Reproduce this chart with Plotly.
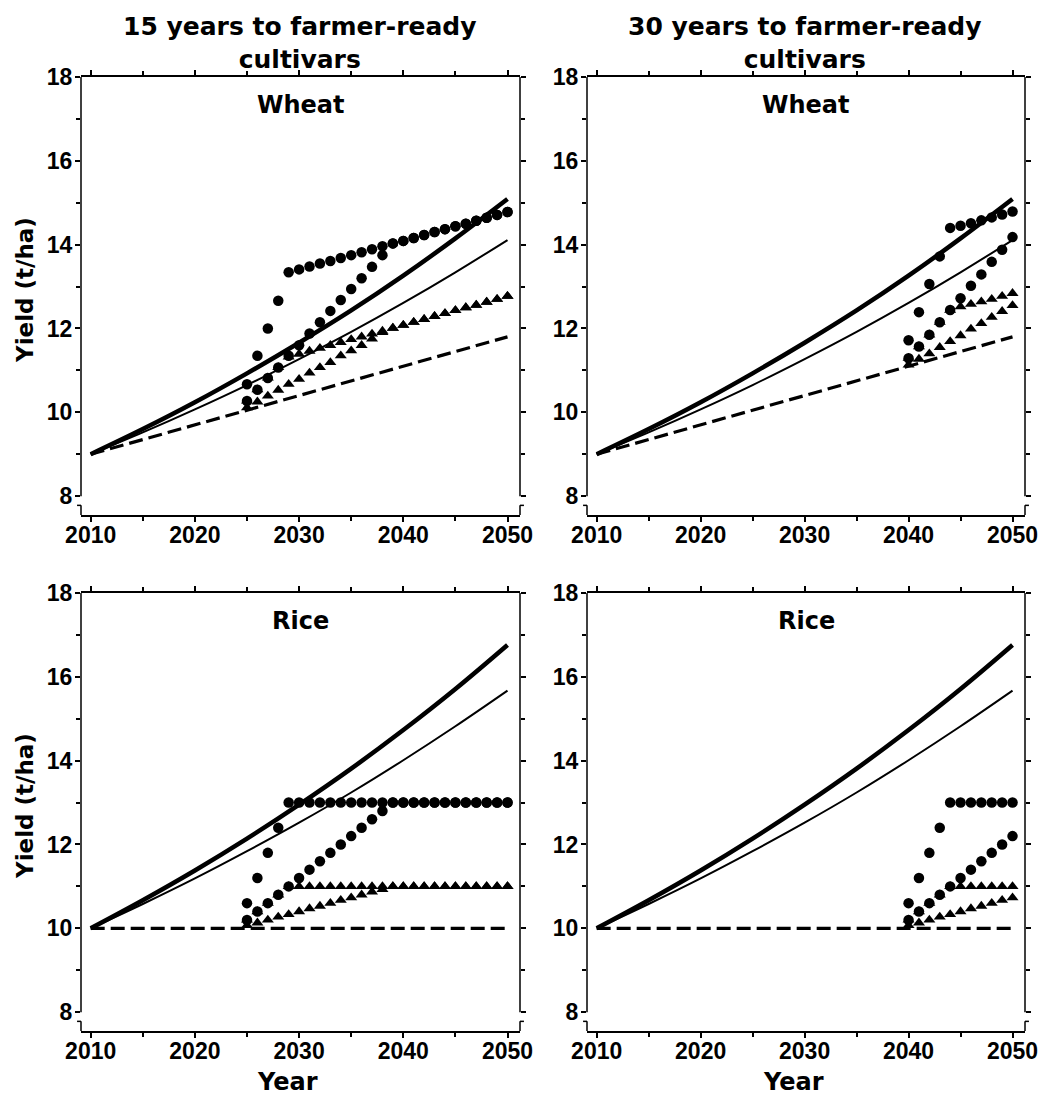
import plotly.graph_objects as go
from plotly.subplots import make_subplots

# ---------------- data ----------------
line_years = [2010, 2015, 2020, 2025, 2030, 2035, 2040, 2045, 2050]

wheat_thick = [9.00, 9.60, 10.24, 10.93, 11.66, 12.43, 13.26, 14.15, 15.09]
wheat_thin = [9.00, 9.52, 10.07, 10.65, 11.27, 11.92, 12.61, 13.34, 14.11]
wheat_dashed = [9.00, 9.35, 9.70, 10.05, 10.40, 10.75, 11.10, 11.45, 11.80]

rice_thick = [10.00, 10.67, 11.38, 12.14, 12.95, 13.81, 14.73, 15.71, 16.76]
rice_thin = [10.00, 10.58, 11.19, 11.84, 12.52, 13.24, 14.01, 14.82, 15.67]
rice_dashed = [10.00, 10.00, 10.00, 10.00, 10.00, 10.00, 10.00, 10.00, 10.00]

years_15 = list(range(2025, 2051))
years_30 = list(range(2040, 2051))

# Wheat, 15 years
w15_circ_fast = [10.67, 11.35, 12.00, 12.66, 13.34, 13.41, 13.48, 13.55, 13.61, 13.68,
                 13.75, 13.82, 13.89, 13.96, 14.03, 14.09, 14.16, 14.23, 14.30, 14.37,
                 14.44, 14.50, 14.57, 14.64, 14.71, 14.78]
w15_circ_slow = [10.27, 10.54, 10.82, 11.07, 11.35, 11.60, 11.88, 12.15, 12.42, 12.68,
                 12.94, 13.20, 13.47, 13.75, 14.03, 14.09, 14.16, 14.23, 14.30, 14.37,
                 14.44, 14.50, 14.57, 14.64, 14.71, 14.78]
w15_tri_fast = [10.27, 10.54, 10.82, 11.07, 11.32, 11.39, 11.46, 11.53, 11.60, 11.67,
                11.74, 11.80, 11.87, 11.94, 12.01, 12.08, 12.15, 12.22, 12.29, 12.36,
                12.43, 12.50, 12.56, 12.63, 12.70, 12.77]
w15_tri_slow = [10.11, 10.25, 10.39, 10.53, 10.67, 10.79, 10.94, 11.07, 11.19, 11.35,
                11.47, 11.60, 11.75, 11.91, 12.01, 12.08, 12.15, 12.22, 12.29, 12.36,
                12.43, 12.50, 12.56, 12.63, 12.70, 12.77]

# Wheat, 30 years
w30_circ_fast = [11.72, 12.39, 13.06, 13.72, 14.40, 14.45, 14.51, 14.58, 14.65, 14.72, 14.79]
w30_circ_slow = [11.29, 11.57, 11.85, 12.15, 12.44, 12.72, 13.02, 13.29, 13.59, 13.88, 14.18]
w30_tri_fast = [11.29, 11.57, 11.85, 12.15, 12.44, 12.52, 12.58, 12.64, 12.70, 12.77, 12.84]
w30_tri_slow = [11.13, 11.27, 11.40, 11.55, 11.69, 11.83, 11.99, 12.12, 12.27, 12.41, 12.55]

# Rice, 15 years
r15_circ_fast = [10.6, 11.2, 11.8, 12.4, 13.0, 13.0, 13.0, 13.0, 13.0, 13.0,
                 13.0, 13.0, 13.0, 13.0, 13.0, 13.0, 13.0, 13.0, 13.0, 13.0,
                 13.0, 13.0, 13.0, 13.0, 13.0, 13.0]
r15_circ_slow = [10.2, 10.4, 10.6, 10.8, 11.0, 11.2, 11.4, 11.6, 11.8, 12.0,
                 12.2, 12.4, 12.6, 12.8, 13.0, 13.0, 13.0, 13.0, 13.0, 13.0,
                 13.0, 13.0, 13.0, 13.0, 13.0, 13.0]
r15_tri_fast = [10.2, 10.4, 10.6, 10.8, 11.0, 11.0, 11.0, 11.0, 11.0, 11.0,
                11.0, 11.0, 11.0, 11.0, 11.0, 11.0, 11.0, 11.0, 11.0, 11.0,
                11.0, 11.0, 11.0, 11.0, 11.0, 11.0]
r15_tri_slow = [10.07, 10.13, 10.20, 10.27, 10.33, 10.40, 10.47, 10.53, 10.60, 10.67,
                10.73, 10.80, 10.87, 10.93, 11.00, 11.00, 11.00, 11.00, 11.00, 11.00,
                11.00, 11.00, 11.00, 11.00, 11.00, 11.00]

# Rice, 30 years
r30_circ_fast = [10.6, 11.2, 11.8, 12.4, 13.0, 13.0, 13.0, 13.0, 13.0, 13.0, 13.0]
r30_circ_slow = [10.2, 10.4, 10.6, 10.8, 11.0, 11.2, 11.4, 11.6, 11.8, 12.0, 12.2]
r30_tri_fast = [10.2, 10.4, 10.6, 10.8, 11.0, 11.0, 11.0, 11.0, 11.0, 11.0, 11.0]
r30_tri_slow = [10.07, 10.13, 10.20, 10.27, 10.33, 10.40, 10.47, 10.53, 10.60, 10.67, 10.73]

column_titles = ["15 years to farmer-ready<br>cultivars", "30 years to farmer-ready<br>cultivars"]
crop_titles = ["Wheat", "Rice"]
x_ticks = [2010, 2020, 2030, 2040, 2050]
y_ticks = [8, 10, 12, 14, 16, 18]

# ---------------- figure ----------------
W, H = 1043, 1097
fig = make_subplots(rows=2, cols=2)

panels = [
    (1, 1, wheat_thick, wheat_thin, wheat_dashed, years_15,
     w15_circ_fast, w15_circ_slow, w15_tri_fast, w15_tri_slow),
    (1, 2, wheat_thick, wheat_thin, wheat_dashed, years_30,
     w30_circ_fast, w30_circ_slow, w30_tri_fast, w30_tri_slow),
    (2, 1, rice_thick, rice_thin, rice_dashed, years_15,
     r15_circ_fast, r15_circ_slow, r15_tri_fast, r15_tri_slow),
    (2, 2, rice_thick, rice_thin, rice_dashed, years_30,
     r30_circ_fast, r30_circ_slow, r30_tri_fast, r30_tri_slow),
]

for (r, c, thick, thin, dashed, yrs, cf, cs, tf, ts) in panels:
    fig.add_trace(go.Scatter(x=line_years, y=dashed, mode="lines",
                             line=dict(color="black", width=3.2, dash="14px,6px")), row=r, col=c)
    fig.add_trace(go.Scatter(x=line_years, y=thin, mode="lines",
                             line=dict(color="black", width=2, shape="spline")), row=r, col=c)
    fig.add_trace(go.Scatter(x=line_years, y=thick, mode="lines",
                             line=dict(color="black", width=4.5, shape="spline")), row=r, col=c)
    for ys in (ts, tf):
        fig.add_trace(go.Scatter(x=yrs, y=ys, mode="markers",
                                 marker=dict(symbol="triangle-up", size=10.5, color="black")),
                      row=r, col=c)
    for ys in (cs, cf):
        fig.add_trace(go.Scatter(x=yrs, y=ys, mode="markers",
                                 marker=dict(symbol="circle", size=10.5, color="black")),
                      row=r, col=c)

# plot area positions (pixels)
x_dom = {1: (81, 520), 2: (587, 1025)}
y_dom = {1: (77, 515), 2: (593, 1031)}

tickfont = dict(family="Liberation Sans", size=23, color="black", weight="bold")
for r in (1, 2):
    for c in (1, 2):
        x0, x1 = x_dom[c]
        y0, y1 = y_dom[r]
        fig.update_xaxes(domain=[x0 / W, x1 / W], range=[2009.07, 2051.2], automargin=False,
                         tickmode="array", tickvals=x_ticks, ticks="outside", ticklen=5,
                         tickwidth=1.5, tickcolor="black", showline=True, linewidth=1.5,
                         linecolor="black", mirror="ticks", showgrid=False, zeroline=False,
                         tickfont=tickfont, ticklabelstandoff=-6,
                         minor=dict(tickmode="array", tickvals=[2015, 2025, 2035, 2045],
                                    ticks="outside", ticklen=4, tickwidth=1.5,
                                    tickcolor="black", showgrid=False),
                         row=r, col=c)
        fig.update_yaxes(domain=[1 - y1 / H, 1 - y0 / H], range=[7.55, 18], automargin=False,
                         tickmode="array", tickvals=y_ticks, ticks="outside", ticklen=5,
                         tickwidth=1.5, tickcolor="black", showline=False,
                         mirror="ticks", showgrid=False, zeroline=False,
                         tickfont=tickfont, ticklabelstandoff=-2,
                         minor=dict(tickmode="array", tickvals=[9, 11, 13, 15, 17],
                                    ticks="outside", ticklen=4, tickwidth=1.5,
                                    tickcolor="black", showgrid=False),
                         row=r, col=c)

# y axis lines with a small break below 8
shapes = []
for i, suf in enumerate(["", "2", "3", "4"]):
    xr = f"x{suf} domain"
    yr = f"y{suf}"
    for xd, stub in ((0, -0.009), (1, 1.009)):
        shapes.append(dict(type="line", xref=xr, yref=yr, x0=xd, x1=xd, y0=8, y1=18,
                           line=dict(color="black", width=1.5)))
        shapes.append(dict(type="line", xref=xr, yref=yr, x0=xd, x1=xd, y0=7.55, y1=7.78,
                           line=dict(color="black", width=1.5)))
        shapes.append(dict(type="line", xref=xr, yref=yr, x0=min(xd, stub), x1=max(xd, stub),
                           y0=7.78, y1=7.78, line=dict(color="black", width=1.5)))

annotations = []
title_font = dict(family="DejaVu Sans", size=25, color="black", weight="bold")
panel_font = dict(family="DejaVu Sans", size=24, color="black", weight="bold")
for c in (1, 2):
    x0, x1 = x_dom[c]
    cx = (x0 + x1) / 2
    annotations.append(dict(text=column_titles[c - 1], x=(cx - 1) / W, y=1 - 43 / H,
                            xref="paper", yref="paper", showarrow=False,
                            xanchor="center", yanchor="middle", font=title_font))
    for r in (1, 2):
        y0, _ = y_dom[r]
        annotations.append(dict(text=crop_titles[r - 1], x=cx / W, y=1 - (y0 + 28) / H,
                                xref="paper", yref="paper", showarrow=False,
                                xanchor="center", yanchor="middle", font=panel_font))
    annotations.append(dict(text="Year", x=(cx - 13) / W, y=1 - 1082 / H,
                            xref="paper", yref="paper", showarrow=False,
                            xanchor="center", yanchor="middle", font=panel_font))
for r in (1, 2):
    y0, y1 = y_dom[r]
    annotations.append(dict(text="Yield (t/ha)", x=25 / W, y=1 - ((y0 + y1) / 2 - 6) / H,
                            xref="paper", yref="paper", showarrow=False, textangle=-90,
                            xanchor="center", yanchor="middle",
                            font=dict(family="DejaVu Sans", size=23, color="black",
                                      weight="bold")))

fig.update_layout(width=W, height=H, margin=dict(l=0, r=0, t=0, b=0),
                  paper_bgcolor="white", plot_bgcolor="white", showlegend=False,
                  shapes=shapes, annotations=annotations)

fig.write_html("out.html", config={"displayModeBar": False},
               post_script="document.body.style.margin='0';document.body.style.overflow='hidden';")
